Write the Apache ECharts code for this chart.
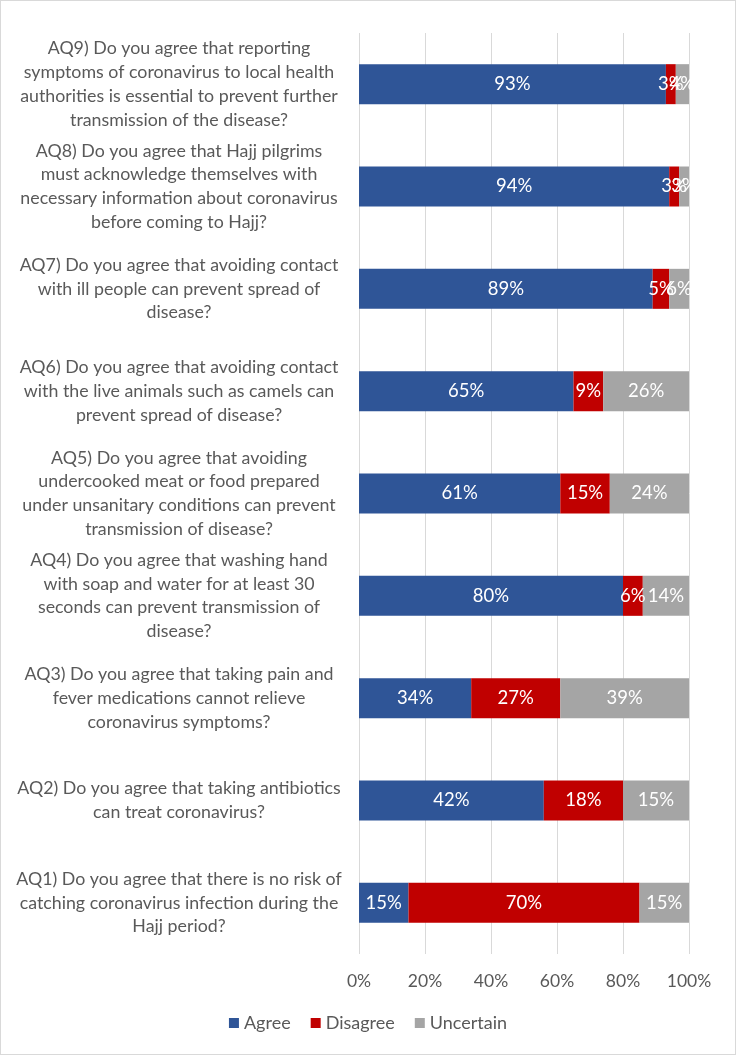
<!DOCTYPE html>
<html><head><meta charset="utf-8">
<script src="https://cdn.jsdelivr.net/npm/echarts@6/dist/echarts.min.js"></script>
<style>
html,body{margin:0;padding:0;background:#fff;}
#c{width:736px;height:1055px;box-sizing:border-box;border:1px solid #d9d9d9;}
</style></head><body>
<div id="c"></div>
<script>
const categories = [
  "AQ1) Do you agree that there is no risk of\ncatching coronavirus infection during the\nHajj period?",
  "AQ2) Do you agree that taking antibiotics\ncan treat coronavirus?",
  "AQ3) Do you agree that taking pain and\nfever medications cannot relieve\ncoronavirus symptoms?",
  "AQ4) Do you agree that washing hand\nwith soap and water for at least 30\nseconds can prevent transmission of\ndisease?",
  "AQ5) Do you agree that avoiding\nundercooked meat or food prepared\nunder unsanitary conditions can prevent\ntransmission of disease?",
  "AQ6) Do you agree that avoiding contact\nwith the live animals such as camels can\nprevent spread of disease?",
  "AQ7) Do you agree that avoiding contact\nwith ill people can prevent spread of\ndisease?",
  "AQ8) Do you agree that Hajj pilgrims\nmust acknowledge themselves with\nnecessary information about coronavirus\nbefore coming to Hajj?",
  "AQ9) Do you agree that reporting\nsymptoms of coronavirus to local health\nauthorities is essential to prevent further\ntransmission of the disease?"
];
const agree     = [15, 42, 34, 80, 61, 65, 89, 94, 93];
const disagree  = [70, 18, 27,  6, 15,  9,  5,  3,  3];
const uncertain = [15, 15, 39, 14, 24, 26,  6,  3,  4];
const xTickLabels = ["0%", "20%", "40%", "60%", "80%", "100%"];

const totals = agree.map((a, i) => a + disagree[i] + uncertain[i]);
function share(arr) {
  return arr.map((v, i) => ({ value: v / totals[i] * 100, raw: v }));
}
const FONT = 'Lato';
const colors = ['#2F5597', '#C00000', '#A5A5A5'];
const names = ['Agree', 'Disagree', 'Uncertain'];
const raws = [agree, disagree, uncertain];

const chart = echarts.init(document.getElementById('c'), null, { renderer: 'canvas' });
chart.setOption({
  animation: false,
  textStyle: { fontFamily: FONT },
  grid: { left: 358, right: 46, top: 32, bottom: 100, containLabel: false },
  xAxis: {
    type: 'value', min: 0, max: 100, interval: 20,
    axisLine: { show: false }, axisTick: { show: false },
    splitLine: { lineStyle: { color: '#d9d9d9', width: 1 } },
    axisLabel: {
      color: '#595959', fontSize: 17.5, fontFamily: FONT, margin: 18,
      formatter: (v) => xTickLabels[Math.round(v / 20)]
    }
  },
  yAxis: {
    type: 'category', data: categories,
    axisLine: { show: false }, axisTick: { show: false },
    axisLabel: {
      color: '#595959', fontSize: 17.8, fontFamily: FONT, lineHeight: 23.8,
      align: 'center', margin: 180, interval: 0
    }
  },
  legend: {
    bottom: 17, left: 'center', itemWidth: 10, itemHeight: 10, itemGap: 20,
    icon: 'rect',
    textStyle: { color: '#595959', fontSize: 18, fontFamily: FONT },
    data: names
  },
  series: names.map((n, k) => ({
    name: n, type: 'bar', stack: 'all', barWidth: 40,
    itemStyle: { color: colors[k] },
    label: {
      show: true, position: 'inside', color: '#fff', fontSize: 18.5, fontFamily: FONT,
      formatter: (p) => p.data.raw + '%'
    },
    data: share(raws[k])
  }))
});
</script>
</body></html>
